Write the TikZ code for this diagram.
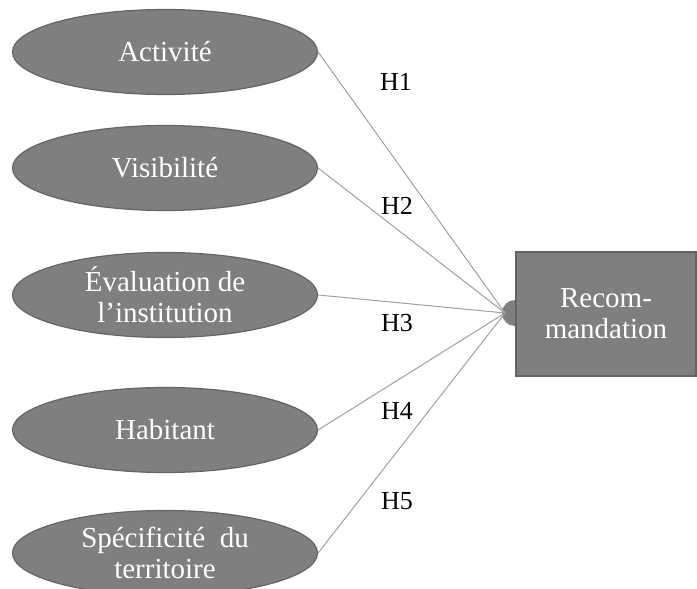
\documentclass[tikz,border=0pt]{standalone}
\usepackage{fontspec}
\setmainfont{Liberation Serif}
\usetikzlibrary{shapes.geometric}

\definecolor{boxgray}{RGB}{127,127,127}
\definecolor{rimgray}{RGB}{100,100,100}
\definecolor{linegray}{RGB}{160,160,160}

\tikzset{
	facteur/.style={ellipse, draw=rimgray, fill=boxgray, line width=1.2pt, minimum width=305pt, minimum height=85pt, inner sep=0pt, text=white, align=center, font=\fontsize{29}{31}\selectfont},
	cible/.style={rectangle, draw=rimgray, fill=boxgray, line width=1.5pt, minimum width=180pt, minimum height=124pt, text=white, align=center, font=\fontsize{29}{31}\selectfont},
	lien/.style={draw=linegray, line width=1pt},
	hyp/.style={font=\fontsize{26}{30}\selectfont}
}

\begin{document}
\begin{tikzpicture}[x=1pt,y=-1pt]
			\useasboundingbox (0,0) rectangle (697,589);
			\clip (0,0) rectangle (697,589);

			\node[facteur] (act) at (165,52) {Activité};
			\node[facteur] (vis) at (165,168) {Visibilité};
			\node[facteur] (eva) at (165,295) {Évaluation de\\l’institution};
			\node[facteur] (hab) at (165,430) {Habitant};
			\node[facteur] (spe) at (165,553) {Spécificité~~du\\territoire};

			\fill[boxgray] (515,313) circle (13);
			\node[cible] (rec) at (606,314) {Recom-\\mandation};
			\coordinate (pt) at (505,313);

			\draw[lien] (act.east) -- (pt);
			\draw[lien] (vis.east) -- (pt);
			\draw[lien] (eva.east) -- (pt);
			\draw[lien] (hab.east) -- (pt);
			\draw[lien] (spe.east) -- (pt);

			\node[hyp] (h1) at (396,82) {H1};
			\node[hyp] (h2) at (397,206) {H2};
			\node[hyp] (h3) at (397,323) {H3};
			\node[hyp] (h4) at (397,411) {H4};
			\node[hyp] (h5) at (397,501) {H5};
		\end{tikzpicture}
\end{document}
